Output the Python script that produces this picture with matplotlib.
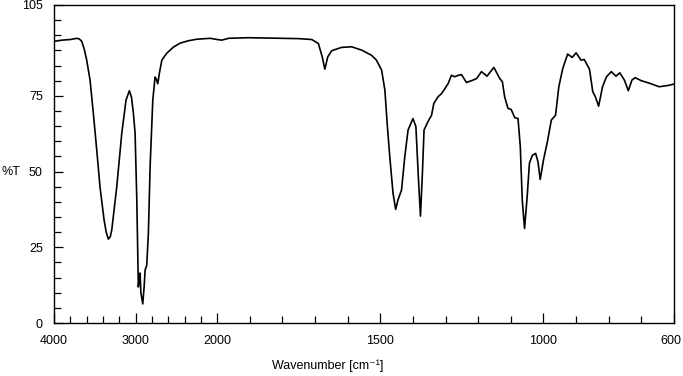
# IR spectrum, %T vs wavenumber (axis compressed 4x above 2000 cm-1)

import numpy as np
import matplotlib.pyplot as plt
import matplotlib.transforms as mtransforms
from matplotlib.ticker import FixedLocator

plt.rcParams['font.family'] = ['Liberation Sans', 'DejaVu Sans']

wavenumber = [4000, 3900, 3800, 3721, 3690, 3660, 3630, 3599, 3558, 3518,
              3476, 3436, 3386, 3360, 3334, 3310, 3292, 3231, 3169, 3117,
              3076, 3050, 3027, 3006, 2985, 2966, 2955, 2945, 2935, 2912,
              2895, 2883, 2863, 2843, 2822, 2789, 2761, 2745, 2728, 2708,
              2678, 2617, 2536, 2454, 2352, 2249, 2150, 2086, 2000, 1986,
              1965, 1904, 1853, 1802, 1751, 1710, 1690, 1678, 1670, 1661,
              1649, 1619, 1588, 1557, 1527, 1512, 1496, 1486, 1479, 1471,
              1461, 1453, 1446, 1435, 1425, 1415, 1400, 1391, 1384, 1377,
              1371, 1366, 1354, 1343, 1336, 1323, 1312, 1302, 1292, 1282,
              1272, 1261, 1251, 1236, 1216, 1205, 1190, 1173, 1152, 1134,
              1126, 1119, 1109, 1099, 1088, 1078, 1071, 1065, 1058, 1050,
              1043, 1034, 1024, 1017, 1010, 1000, 987, 976, 963, 953,
              941, 926, 912, 900, 885, 875, 859, 849, 841, 831,
              819, 807, 792, 778, 766, 752, 740, 729, 719, 700,
              676, 645, 615, 600]
transmittance = [93.0, 93.4, 93.6, 94.0, 93.8, 93.0, 90.5, 86.8, 80.2, 69.3,
                 57.1, 44.9, 34.0, 30.0, 27.7, 28.5, 30.7, 44.9, 62.7, 73.6,
                 76.7, 74.5, 69.3, 62.7, 40.6, 11.9, 15.0, 16.5, 10.0, 6.3,
                 12.0, 17.5, 19.1, 29.7, 51.5, 73.6, 81.2, 80.5, 79.0, 82.5,
                 86.8, 89.1, 91.1, 92.4, 93.2, 93.7, 93.9, 94.0, 93.6, 93.4,
                 94.0, 94.2, 94.1, 94.0, 93.9, 93.6, 92.3, 87.9, 83.8, 87.9,
                 89.9, 91.0, 91.2, 90.1, 88.4, 86.8, 83.5, 76.9, 65.9, 54.9,
                 42.8, 37.5, 40.6, 43.9, 54.9, 63.7, 67.5, 64.9, 49.4, 35.3,
                 49.4, 63.7, 66.5, 68.6, 72.5, 74.7, 75.8, 77.4, 79.1, 81.8,
                 81.3, 81.8, 82.0, 79.4, 80.2, 80.7, 83.0, 81.5, 84.4, 80.7,
                 79.7, 74.7, 70.9, 70.5, 67.8, 67.5, 58.2, 40.6, 31.2, 41.7,
                 52.8, 55.4, 56.0, 53.3, 47.4, 53.8, 60.4, 67.0, 68.6, 78.0,
                 84.0, 88.8, 87.7, 89.2, 86.8, 87.0, 83.8, 76.4, 74.7, 71.6,
                 78.0, 81.3, 83.0, 81.5, 82.6, 80.2, 76.7, 80.2, 81.0, 80.0,
                 79.2, 78.0, 78.5, 78.9]

x_major = [4000, 3000, 2000, 1500, 1000, 600]
x_minor = [3800, 3600, 3400, 3200, 2800, 2600, 2400, 2200,
           1900, 1800, 1700, 1600, 1400, 1300, 1200, 1100, 900, 800, 700]
y_major = [0, 25, 50, 75, 105]


def fwd(x):
    x = np.asarray(x, dtype=float)
    return np.where(x > 2000, 2000 + (x - 2000) / 4.0, x)


def inv(y):
    y = np.asarray(y, dtype=float)
    return np.where(y > 2000, 2000 + (y - 2000) * 4.0, y)


fig = plt.figure(figsize=(6.83, 3.76), dpi=100)
ax = fig.add_axes([54 / 683, 53 / 376, 620 / 683, 318 / 376])

ax.plot(wavenumber, transmittance, color='black', linewidth=1.2)

ax.set_xscale('function', functions=(fwd, inv))
ax.set_xlim(4000, 600)
ax.set_ylim(0, 105)

ax.xaxis.set_major_locator(FixedLocator(x_major))
ax.xaxis.set_minor_locator(FixedLocator(x_minor))
ax.set_xticklabels([str(v) for v in x_major])
ax.yaxis.set_major_locator(FixedLocator(y_major))
ax.yaxis.set_minor_locator(FixedLocator(list(range(5, 105, 5))))
ax.set_yticklabels([str(v) for v in y_major])

ax.tick_params(axis='x', which='major', direction='in', length=7.5, width=0.9,
               pad=9, labelsize=9)
ax.tick_params(axis='x', which='minor', direction='in', length=5, width=0.9)
ax.tick_params(axis='y', which='major', direction='in', length=6.5, width=0.9,
               pad=8, labelsize=9)
ax.tick_params(axis='y', which='minor', direction='in', length=5, width=0.9)

# nudge the "600" label left so it stays inside the figure
last = ax.get_xticklabels()[-1]
last.set_transform(last.get_transform() +
                   mtransforms.ScaledTranslation(-0.03, 0, fig.dpi_scale_trans))

for s in ax.spines.values():
    s.set_linewidth(1.0)

ax.set_xlabel('Wavenumber [cm⁻¹]', fontsize=9)
ax.xaxis.set_label_coords(274 / 620, -0.115)
ax.set_ylabel('%T', fontsize=9, rotation=0, ha='left', va='center')
ax.yaxis.set_label_coords(-53 / 620, 50 / 105)

fig.savefig('out.png', dpi=100)
